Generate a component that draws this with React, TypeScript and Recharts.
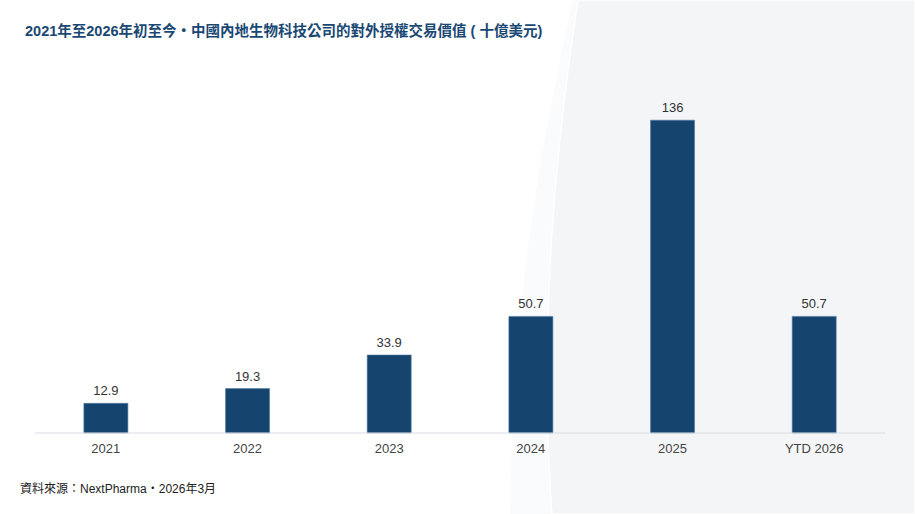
import React from "react";
import { BarChart, Bar, XAxis, YAxis, LabelList } from "recharts";

const categories = ["2021", "2022", "2023", "2024", "2025", "YTD 2026"];
const values = [12.9, 19.3, 33.9, 50.7, 136, 50.7];
const valueLabels = ["12.9", "19.3", "33.9", "50.7", "136", "50.7"];

const data = categories.map((c, i) => ({ name: c, value: values[i], label: valueLabels[i] }));

const FONT = '"Liberation Sans", Arial, "Noto Sans CJK TC", sans-serif';
const CJK = '"Noto Sans CJK TC", sans-serif';

const Sep = () => (
  <span style={{ fontFamily: CJK }}>・</span>
);

export default function App() {
  return (
    <div
      lang="zh-TW"
      style={{
        position: "absolute",
        left: 0,
        top: 0,
        width: 915,
        height: 514,
        overflow: "hidden",
        background: "#ffffff",
        fontFamily: FONT,
      }}
    >
      <svg
        width={915}
        height={514}
        style={{ position: "absolute", left: 0, top: 0 }}
      >
        <path d="M573,0 C540,150 512,300 510,514 L915,514 L915,0 Z" fill="#fafbfc" />
        <path
          d="M578,0 C555,150 538,330 552,514 L915,514 L915,0 Z"
          fill="#f4f5f7"
          stroke="#ffffff"
          strokeWidth={1.5}
        />
      </svg>
      <div
        style={{
          position: "absolute",
          left: 25,
          top: 20,
          fontSize: 14.5,
          fontWeight: 700,
          color: "#1a4873",
          whiteSpace: "nowrap",
          lineHeight: "20px",
        }}
      >
        2021年至2026年初至今<Sep />中國內地生物科技公司的對外授權交易價值 ( 十億美元)
      </div>
      <div style={{ position: "absolute", left: 0, top: 0 }}>
        <BarChart
          width={915}
          height={514}
          data={data}
          margin={{ top: 111, right: 30, bottom: 51, left: 35 }}
          barCategoryGap="34.5%"
        >
          <XAxis
            dataKey="name"
            axisLine={{ stroke: "#d8dce2", strokeWidth: 1 }}
            tickLine={false}
            tickSize={0}
            tickMargin={11}
            height={30}
            tick={{ fill: "#444444", fontSize: 13, fontFamily: FONT }}
            interval={0}
          />
          <YAxis hide domain={[0, 140]} />
          <Bar
            dataKey="value"
            fill="#15446e"
            stroke="#4f7aa3"
            strokeWidth={0.6}
            isAnimationActive={false}
          >
            <LabelList
              dataKey="label"
              position="top"
              offset={8}
              style={{ fill: "#333333", fontSize: 13, fontFamily: FONT }}
            />
          </Bar>
        </BarChart>
      </div>
      <div
        style={{
          position: "absolute",
          left: 20,
          top: 480,
          fontSize: 12,
          color: "#222222",
          whiteSpace: "nowrap",
          lineHeight: "16px",
        }}
      >
        資料來源：NextPharma<Sep />2026年3月
      </div>
    </div>
  );
}
